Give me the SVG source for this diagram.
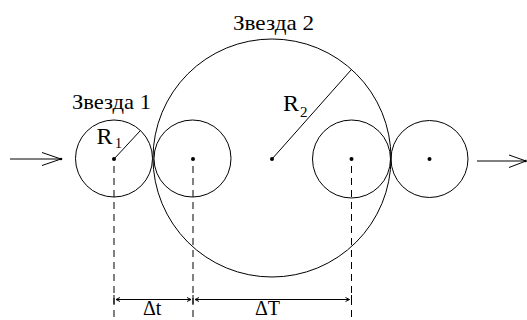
<svg xmlns="http://www.w3.org/2000/svg" width="527" height="320" viewBox="0 0 527 320">
<style>
.c{fill:none;stroke:#000;stroke-width:1}
.l{fill:none;stroke:#000;stroke-width:1}
.d{fill:none;stroke:#000;stroke-width:1;stroke-dasharray:7 5}
.dot{fill:#000}
text{fill:#000;font-family:'Liberation Serif','Times New Roman',serif}
</style>
<rect width="527" height="320" fill="#fff"/>
<g id="star2">
<circle class="c" cx="272" cy="158" r="119"/>
<circle class="dot" cx="272" cy="159" r="2"/>
<line class="l" x1="272" y1="159" x2="351" y2="70"/>
<text x="283" y="111" font-size="24">R</text>
<text x="300" y="117" font-size="15">2</text>
<text x="233" y="29.5" font-size="21" textLength="81" lengthAdjust="spacingAndGlyphs">Звезда 2</text>
</g>
<g id="star1">
<circle class="c" cx="114" cy="158.5" r="38.5"/>
<circle class="dot" cx="114" cy="159" r="2"/>
<line class="l" x1="114" y1="159" x2="140" y2="131"/>
<text x="96.5" y="144" font-size="24">R</text>
<text x="115" y="147.5" font-size="14">1</text>
<text x="72" y="109.3" font-size="21" textLength="79" lengthAdjust="spacingAndGlyphs">Звезда 1</text>
</g>
<g id="planet1">
<circle class="c" cx="192.5" cy="158.5" r="38.5"/>
<circle class="dot" cx="193" cy="159" r="2"/>
</g>
<g id="planet2">
<circle class="c" cx="351.5" cy="159" r="39"/>
<circle class="dot" cx="351.5" cy="159" r="2"/>
</g>
<g id="planet3">
<circle class="c" cx="429.5" cy="159" r="38.5"/>
<circle class="dot" cx="429.5" cy="159" r="2"/>
</g>
<g id="connectors">
<line class="l" x1="10" y1="159" x2="61" y2="159"/>
<polyline class="l" points="42,152.5 61,159 42,165.5"/>
<circle class="dot" cx="61" cy="159" r="1.3"/>
<line class="l" x1="477" y1="161" x2="526" y2="161"/>
<polyline class="l" points="509,155 526,161 509,167.5"/>
<circle class="dot" cx="525.5" cy="161" r="1.3"/>
<line class="d" x1="114" y1="166" x2="114" y2="320"/>
<line class="d" x1="193" y1="166" x2="193" y2="320"/>
<line class="d" x1="351.5" y1="166" x2="351.5" y2="320"/>
<line class="l" x1="114" y1="295" x2="114" y2="304"/>
<line class="l" x1="193" y1="295" x2="193" y2="304"/>
<line class="l" x1="351.5" y1="295" x2="351.5" y2="304"/>
<line class="l" x1="116" y1="299.5" x2="191" y2="299.5"/>
<polyline class="l" points="120,297.5 116,299.5 120,301.5"/>
<polyline class="l" points="187,297.5 191,299.5 187,301.5"/>
<line class="l" x1="195" y1="299.5" x2="349.5" y2="299.5"/>
<polyline class="l" points="199,297.5 195,299.5 199,301.5"/>
<polyline class="l" points="345.5,297.5 349.5,299.5 345.5,301.5"/>
<text x="143" y="315" font-size="20">Δt</text>
<text x="255" y="315" font-size="20">ΔT</text>
</g>
</svg>
